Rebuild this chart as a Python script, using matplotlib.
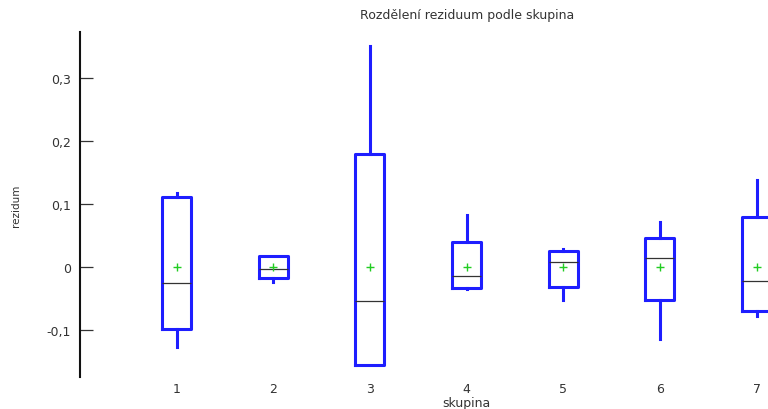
import matplotlib
matplotlib.use("Agg")
import matplotlib.pyplot as plt
from matplotlib.ticker import FuncFormatter

# Residual distribution per group (skupina)
groups = [1, 2, 3, 4, 5, 6, 7]
whisker_low = [-0.1265, -0.0243, -0.1550, -0.0354, -0.0529, -0.1138, -0.0778]
q1 = [-0.0989, -0.0175, -0.1550, -0.0328, -0.0312, -0.0524, -0.0704]
medians = [-0.0249, -0.0026, -0.0534, -0.0138, 0.0079, 0.0138, -0.0217]
q3 = [0.1106, 0.0175, 0.1800, 0.0397, 0.0259, 0.0455, 0.0794]
whisker_high = [0.1180, 0.0175, 0.3513, 0.0825, 0.0286, 0.0720, 0.1376]
means = [0.0, 0.0, 0.0, 0.0, 0.0, 0.0, 0.0]
y_ticks = [-0.1, 0.0, 0.1, 0.2, 0.3]

plt.rcParams["font.family"] = ["DejaVu Sans"]
text_color = "#333333"
fs = 9

fig = plt.figure(figsize=(7.68, 4.10), dpi=100)
W, H = 768, 410
left, right = 80, 853.3
top, bottom = 33, 378
ax = fig.add_axes([left / W, 1 - bottom / H, (right - left) / W, (bottom - top) / H])

stats = []
for i in range(len(groups)):
    stats.append(dict(
        whislo=whisker_low[i], q1=q1[i], med=medians[i], q3=q3[i],
        whishi=whisker_high[i], mean=means[i], fliers=[], label=str(groups[i]),
    ))

blue = "#1e1eff"
ax.bxp(
    stats, positions=groups, widths=0.3, showcaps=False, showmeans=True,
    showfliers=False, manage_ticks=False,
    boxprops=dict(color=blue, linewidth=2.2),
    whiskerprops=dict(color=blue, linewidth=2.2),
    medianprops=dict(color="#333333", linewidth=0.9),
    meanprops=dict(marker="+", markeredgecolor="#22cc22", markersize=6,
                   markeredgewidth=1.0, linestyle="none"),
)

ax.set_xlim(0, 8)
ax.set_ylim(-0.1746, 0.373)
ax.set_xticks(groups)
ax.set_xticklabels([str(g) for g in groups])
ax.set_yticks(y_ticks)


def comma_fmt(v, pos):
    if abs(v) < 1e-9:
        return "0"
    return f"{v:.1f}".replace(".", ",")


ax.yaxis.set_major_formatter(FuncFormatter(comma_fmt))

for side in ("top", "right", "bottom"):
    ax.spines[side].set_visible(False)
ax.spines["left"].set_linewidth(1.5)
ax.spines["left"].set_color("#111111")

ax.tick_params(axis="y", direction="in", length=9, width=0.9, color="#333333",
               labelsize=fs, labelcolor=text_color, pad=6.5)
ax.tick_params(axis="x", length=0, labelsize=fs, labelcolor=text_color, pad=3.5)

ax.set_title("Rozdělení reziduum podle skupina", fontsize=fs, color=text_color, pad=10)
ax.set_xlabel("skupina", fontsize=fs, color=text_color, labelpad=0.5)
ax.set_ylabel("rezidum", fontsize=7.5, color=text_color)
ax.yaxis.set_label_coords((21 - left) / (right - left), 0.5)

fig.savefig("out.png", dpi=100)
